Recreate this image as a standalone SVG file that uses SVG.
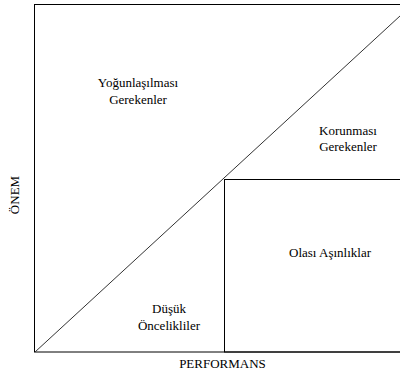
<svg xmlns="http://www.w3.org/2000/svg" width="400" height="373" viewBox="0 0 400 373">
<style>
.ln{fill:none;stroke:#000;stroke-width:1}
.diag{stroke:#333;stroke-width:1}
text{font-family:"Liberation Serif","Times New Roman",serif;font-size:13px;fill:#000;text-anchor:middle}
</style>
<rect width="400" height="373" fill="#fff"/>
<g id="connectors">
<rect class="ln" x="34.5" y="4.5" width="400" height="347.5"/>
<line class="diag" x1="35" y1="352" x2="413" y2="4"/>
<rect class="ln" x="224.5" y="179.5" width="200" height="172.5"/>
</g>
<g id="yogunlasilmasi"><text x="138" y="87">Yoğunlaşılması</text><text x="138" y="104">Gerekenler</text></g>
<g id="korunmasi"><text x="348" y="135">Korunması</text><text x="348" y="151">Gerekenler</text></g>
<g id="olasi"><text x="330" y="257">Olası Aşınlıklar</text></g>
<g id="dusuk"><text x="169" y="313">Düşük</text><text x="169" y="330">Öncelikliler</text></g>
<g id="performans"><text x="222.5" y="368">PERFORMANS</text></g>
<g id="onem"><text transform="translate(19,195) rotate(-90)" x="0" y="0">ÖNEM</text></g>
</svg>
